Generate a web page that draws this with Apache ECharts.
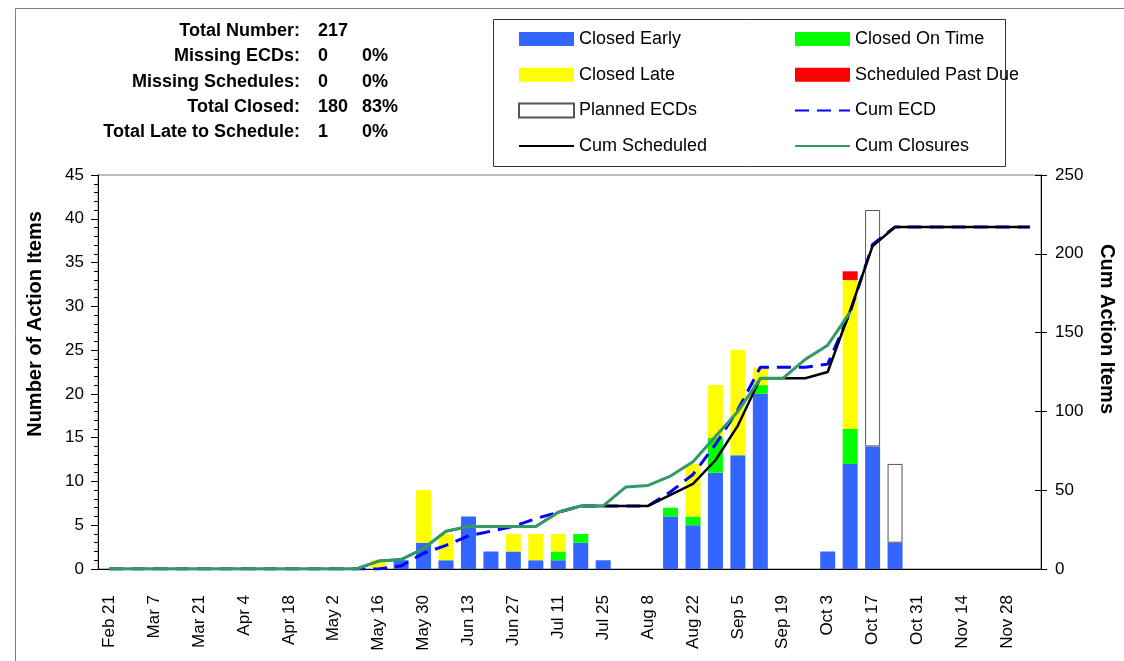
<!DOCTYPE html>
<html>
<head>
<meta charset="utf-8">
<script src="https://cdn.jsdelivr.net/npm/echarts@6/dist/echarts.min.js"></script>
<style>
html,body{margin:0;padding:0;background:#fff;}
#chart{width:1124px;height:661px;}
</style>
</head>
<body>
<div id="chart"></div>
<script>
const categories = ['Feb 21','Feb 28','Mar 7','Mar 14','Mar 21','Mar 28','Apr 4','Apr 11','Apr 18','Apr 25','May 2','May 9','May 16','May 23','May 30','Jun 6','Jun 13','Jun 20','Jun 27','Jul 4','Jul 11','Jul 18','Jul 25','Aug 1','Aug 8','Aug 15','Aug 22','Aug 29','Sep 5','Sep 12','Sep 19','Sep 26','Oct 3','Oct 10','Oct 17','Oct 24','Oct 31','Nov 7','Nov 14','Nov 21','Nov 28','Dec 5'];

const closedEarly   = [0,0,0,0,0,0,0,0,0,0,0,0, 0,1,3,1,6,2,2,1,1,3,1,0,0,6,5,11,13,20,0,0,2,12,14,3, 0,0,0,0,0,0];
const closedOnTime  = [0,0,0,0,0,0,0,0,0,0,0,0, 0,0,0,0,0,0,0,0,1,1,0,0,0,1,1,4,0,1,0,0,0,4,0,0, 0,0,0,0,0,0];
const closedLate    = [0,0,0,0,0,0,0,0,0,0,0,0, 1,0,6,3,0,0,2,3,2,0,0,0,0,0,6,6,12,2,0,0,0,17,0,0, 0,0,0,0,0,0];
const pastDue       = [0,0,0,0,0,0,0,0,0,0,0,0, 0,0,0,0,0,0,0,0,0,0,0,0,0,0,0,0,0,0,0,0,0,1,0,0, 0,0,0,0,0,0];
const plannedECDs   = [0,0,0,0,0,0,0,0,0,0,0,0, 0,0,0,0,0,0,0,0,0,0,0,0,0,0,0,0,0,0,0,0,0,0,27,9, 0,0,0,0,0,0];

const cumECD       = [0,0,0,0,0,0,0,0,0,0,0,0, 0,2,10,15,21,24,27,32,36,40,40,40,40,49,60,79,101,128,128,128,130,163,206,217, 217,217,217,217,217,217];
const cumScheduled = [0,0,0,0,0,0,0,0,0,0,0,0, 5,6,13,24,27,27,27,27,36,40,40,40,40,47,54,69,91,121,121,121,125,164,205,217, 217,217,217,217,217,217];
const cumClosures  = [0,0,0,0,0,0,0,0,0,0,0,0, 5,6,13,24,27,27,27,27,36,40,40,52,53,59,68,84,100,121,121,133,142,163,null,null, null,null,null,null,null,null];

const leftTicks = {min:0, max:45, interval:5};
const rightTicks = {min:0, max:250, interval:50};

const summaryLabels = ['Total Number:','Missing ECDs:','Missing Schedules:','Total Closed:','Total Late to Schedule:'];
const summaryValues = ['217','0','0','180','1'];
const summaryPercents = ['','0%','0%','83%','0%'];

const FONT = '"Liberation Sans", Arial, sans-serif';
const nz = a => a.map(v => v === 0 ? '-' : v);

const chart = echarts.init(document.getElementById('chart'), null, {renderer:'canvas'});

const summaryRowsY = [31, 56.5, 82, 107, 132];
const graphics = [
  {type:'rect', shape:{x:15.5, y:8.5, width:1200, height:700}, style:{fill:'none', stroke:'#808080', lineWidth:1}, silent:true, z:-10},
  {type:'rect', shape:{x:493.5, y:19.5, width:512, height:147}, style:{fill:'#fff', stroke:'#333', lineWidth:1}, silent:true, z:-5},
  {type:'text', x:35, y:324, rotation:Math.PI/2, style:{text:'Number of Action Items', font:'bold 20px ' + FONT, fill:'#000', align:'center', verticalAlign:'middle'}},
  {type:'text', x:1107, y:329, rotation:-Math.PI/2, style:{text:'Cum Action Items', font:'bold 20px ' + FONT, fill:'#000', align:'center', verticalAlign:'middle'}}
];
summaryLabels.forEach((t, i) => {
  graphics.push({type:'text', x:300, y:summaryRowsY[i], style:{text:t, font:'bold 18px ' + FONT, fill:'#000', align:'right', verticalAlign:'middle'}});
  graphics.push({type:'text', x:318, y:summaryRowsY[i], style:{text:summaryValues[i], font:'bold 18px ' + FONT, fill:'#000', align:'left', verticalAlign:'middle'}});
  if (summaryPercents[i]) graphics.push({type:'text', x:362, y:summaryRowsY[i], style:{text:summaryPercents[i], font:'bold 18px ' + FONT, fill:'#000', align:'left', verticalAlign:'middle'}});
});

const legendCommon = {
  orient:'vertical', itemWidth:55, itemHeight:14, itemGap:17.7, padding:0,
  textStyle:{fontFamily:FONT, fontSize:18, color:'#000', lineHeight:18},
  selectedMode:false
};
const noSymbol = {color:'rgba(0,0,0,0)', borderColor:'rgba(0,0,0,0)', borderWidth:0, opacity:0};

const barW = 15;
const option = {
  animation:false,
  backgroundColor:'#fff',
  textStyle:{fontFamily:FONT},
  grid:{left:98, right:83, top:175, bottom:92, show:true, borderColor:'#808080', borderWidth:1, backgroundColor:'transparent'},
  legend:[
    Object.assign({left:518, top:30, data:[
      {name:'Closed Early', icon:'rect'},
      {name:'Closed Late', icon:'rect'},
      {name:'Planned ECDs', icon:'rect'},
      {name:'Cum Scheduled', itemStyle:noSymbol}
    ]}, legendCommon),
    Object.assign({left:794, top:30, data:[
      {name:'Closed On Time', icon:'rect'},
      {name:'Scheduled Past Due', icon:'rect'},
      {name:'Cum ECD', itemStyle:noSymbol},
      {name:'Cum Closures', itemStyle:noSymbol}
    ]}, legendCommon)
  ],
  graphic:graphics,
  xAxis:{
    type:'category', data:categories, boundaryGap:true,
    axisLine:{lineStyle:{color:'#000', width:1}},
    axisTick:{show:false},
    axisLabel:{interval:1, rotate:90, margin:26, fontSize:17, color:'#000', fontFamily:FONT},
    splitLine:{show:false}
  },
  yAxis:[
    {type:'value', position:'left', min:leftTicks.min, max:leftTicks.max, interval:leftTicks.interval,
     axisLine:{show:true, lineStyle:{color:'#000'}},
     axisTick:{show:true, length:7, lineStyle:{color:'#000'}},
     minorTick:{show:true, splitNumber:5, length:4, lineStyle:{color:'#000'}},
     axisLabel:{fontSize:17, color:'#000', margin:14, fontFamily:FONT},
     splitLine:{show:false}},
    {type:'value', position:'right', min:rightTicks.min, max:rightTicks.max, interval:rightTicks.interval,
     axisLine:{show:true, lineStyle:{color:'#000'}},
     axisTick:{show:true, length:6, lineStyle:{color:'#000'}},
     axisLabel:{fontSize:17, color:'#000', margin:14, fontFamily:FONT},
     splitLine:{show:false}},
    {type:'value', position:'right', min:rightTicks.min, max:rightTicks.max, interval:rightTicks.interval,
     axisLine:{show:false},
     axisTick:{show:true, inside:true, length:6, lineStyle:{color:'#000'}},
     axisLabel:{show:false},
     splitLine:{show:false}}
  ],
  series:[
    {name:'Closed Early', type:'bar', stack:'s', barWidth:barW, data:nz(closedEarly), itemStyle:{color:'#3366FF'}, z:2},
    {name:'Closed On Time', type:'bar', stack:'s', barWidth:barW, data:nz(closedOnTime), itemStyle:{color:'#00FF00'}, z:2},
    {name:'Closed Late', type:'bar', stack:'s', barWidth:barW, data:nz(closedLate), itemStyle:{color:'#FFFF00'}, z:2},
    {name:'Scheduled Past Due', type:'bar', stack:'s', barWidth:barW, data:nz(pastDue), itemStyle:{color:'#FF0000'}, z:2},
    {name:'Planned ECDs', type:'bar', stack:'s', barWidth:barW, data:nz(plannedECDs), itemStyle:{color:'#FFFFFF', borderColor:'#555555', borderWidth:1}, z:2},
    {name:'Cum ECD', type:'line', yAxisIndex:1, data:cumECD, symbol:'none', lineStyle:{color:'#0000FF', width:3, type:[14,8]}, itemStyle:{color:'#0000FF'}, z:3},
    {name:'Cum Scheduled', type:'line', yAxisIndex:1, data:cumScheduled, symbol:'none', lineStyle:{color:'#000000', width:2.5}, itemStyle:{color:'#000'}, z:4},
    {name:'Cum Closures', type:'line', yAxisIndex:1, data:cumClosures, symbol:'none', connectNulls:false, lineStyle:{color:'#339966', width:3}, itemStyle:{color:'#339966'}, z:5}
  ]
};
chart.setOption(option);
</script>
</body>
</html>
